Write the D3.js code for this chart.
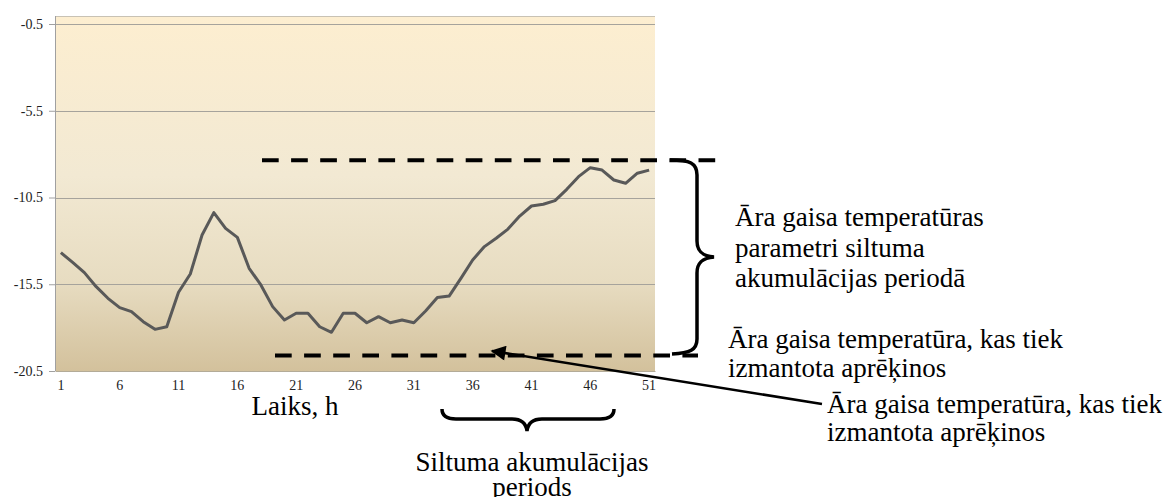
<!DOCTYPE html>
<html>
<head>
<meta charset="utf-8">
<script src="https://cdn.jsdelivr.net/npm/d3@7"></script>
<style>
	body { margin: 0; background: #fff; }
	svg { display: block; font-family: "Liberation Serif", "Times New Roman", serif; }
</style>
</head>
<body>
<div class="temp_chart"></div>
<script>
// D3 Script
let my_WIDTH = 1166
let my_HEIGHT = 497
const SVG_MARGIN = {top: 24, right: 511, bottom: 126, left: 55};
const FONT = '"Liberation Serif", "Times New Roman", serif';

// Laiks, h
const hours = d3.range(1, 52);
// Āra gaisa temperatūra, °C
const temps = [-13.68, -14.24, -14.83, -15.64, -16.31, -16.85, -17.08, -17.66, -18.10, -17.95,
	-15.96, -14.91, -12.66, -11.37, -12.28, -12.80, -14.58, -15.54, -16.79, -17.56,
	-17.17, -17.17, -17.95, -18.27, -17.17, -17.17, -17.72, -17.37, -17.72, -17.56,
	-17.72, -17.04, -16.27, -16.18, -15.16, -14.10, -13.33, -12.85, -12.32, -11.57,
	-10.99, -10.89, -10.68, -10.03, -9.30, -8.78, -8.92, -9.49, -9.68, -9.10, -8.92];
const yTicks = [-0.5, -5.5, -10.5, -15.5, -20.5];
const xTickLabels = [1, 6, 11, 16, 21, 26, 31, 36, 41, 46, 51];
// dashed reference levels (top / bottom of the accumulation range)
const refLevels = [-8.35, -19.6];

const bsvg = d3.select(".temp_chart")
			  .append("svg")
			  .attr("width", my_WIDTH)
			  .attr("height", my_HEIGHT);

const xScale = d3.scaleBand()
		       .domain(hours)
		       .range([SVG_MARGIN.left, my_WIDTH - SVG_MARGIN.right])
		       .paddingInner(0);

const yScale = d3.scaleLinear()
			   .domain([-20.5, -0.5])
			   .range([my_HEIGHT - SVG_MARGIN.bottom, SVG_MARGIN.top]);

const plotTop = yScale(-0.5) - 8;
const plotBottom = yScale(-20.5);
const plotLeft = SVG_MARGIN.left;
const plotRight = my_WIDTH - SVG_MARGIN.right;

// gradient background
const defs = bsvg.append("defs");
const grad = defs.append("linearGradient")
			 .attr("id", "bg")
			 .attr("x1", 0).attr("y1", 0)
			 .attr("x2", 0).attr("y2", 1);
[["0%", "#fdeed0"], ["45%", "#f2e9d3"], ["75%", "#e7dcc1"], ["100%", "#d3c19c"]].forEach(s => {
	grad.append("stop").attr("offset", s[0]).attr("stop-color", s[1]);
});

defs.append("marker")
	.attr("id", "arrowhead")
	.attr("viewBox", "0 0 10 10")
	.attr("refX", 9)
	.attr("refY", 5)
	.attr("markerWidth", 7)
	.attr("markerHeight", 6)
	.attr("markerUnits", "strokeWidth")
	.attr("orient", "auto")
	.append("path")
	.attr("d", "M0,0 L10,5 L0,10 z")
	.attr("fill", "#000");

bsvg.append("rect")
	.attr("x", plotLeft)
	.attr("y", plotTop)
	.attr("width", plotRight - plotLeft)
	.attr("height", plotBottom - plotTop)
	.attr("fill", "url(#bg)");

bsvg.append("line")
	.attr("x1", plotLeft).attr("x2", plotRight)
	.attr("y1", plotTop + 0.5).attr("y2", plotTop + 0.5)
	.attr("stroke", "#c8c2b4")
	.attr("stroke-width", 1);

// gridlines
bsvg.append("g")
	.selectAll("line")
	.data(yTicks.slice(0, -1)).enter()
	.append("line")
	.attr("x1", plotLeft)
	.attr("x2", plotRight)
	.attr("y1", d => Math.round(yScale(d)) + 0.5)
	.attr("y2", d => Math.round(yScale(d)) + 0.5)
	.attr("stroke", "#a6a39c")
	.attr("stroke-width", 1);

const yAxis = d3.axisLeft(yScale)
				.tickValues(yTicks)
				.tickFormat(d => d.toFixed(1))
				.tickSizeInner(6)
				.tickSizeOuter(0)
				.tickPadding(6);

const y_axis = bsvg.append("g")
			 .attr("class", "y axis")
			 .attr("transform", "translate(" + plotLeft + ", 0)")
			 .call(yAxis)
			 .attr("font-family", FONT)
			 .attr("font-size", 14);
y_axis.select(".domain").attr("stroke", "#a0a0a0").attr("d", "M0.5," + plotTop + "V" + plotBottom);
y_axis.selectAll("line").attr("stroke", "#a0a0a0");
y_axis.selectAll("text").attr("fill", "#222");

const xAxis = d3.axisBottom(xScale)
				.tickValues(xTickLabels)
				.tickSize(0)
				.tickPadding(9);

const x_axis = bsvg.append("g")
			 .attr("class", "x axis")
			 .attr("transform", "translate(0, " + plotBottom + ")")
			 .call(xAxis)
			 .attr("font-family", FONT)
			 .attr("font-size", 14);
x_axis.select(".domain").attr("stroke", "#b3ab98");
x_axis.selectAll("text").attr("fill", "#222");

// temperature line
const line = d3.line()
			 .x((d, i) => xScale(hours[i]) + xScale.bandwidth() / 2)
			 .y(d => yScale(d));

bsvg.append("path")
	.datum(temps)
	.attr("d", line)
	.attr("fill", "none")
	.attr("stroke", "#595959")
	.attr("stroke-width", 3)
	.attr("stroke-linejoin", "round");

// annotations
bsvg.append("line")
	.attr("x1", 262).attr("x2", 716)
	.attr("y1", yScale(refLevels[0])).attr("y2", yScale(refLevels[0]))
	.attr("stroke", "#000")
	.attr("stroke-width", 4)
	.attr("stroke-dasharray", "16.7 12.4");

bsvg.append("line")
	.attr("x1", 275).attr("x2", 698)
	.attr("y1", yScale(refLevels[1])).attr("y2", yScale(refLevels[1]))
	.attr("stroke", "#000")
	.attr("stroke-width", 4)
	.attr("stroke-dasharray", "16.7 12.4");

// right brace
bsvg.append("path")
	.attr("d", "M670,160 C690,160 697,163 697,175 L697,241 C697,252 703,256 714,257 C703,258 697,262 697,273 L697,339 C697,350 690,353 672,354")
	.attr("fill", "none")
	.attr("stroke", "#000")
	.attr("stroke-width", 3.5);

// bottom brace
bsvg.append("path")
	.attr("d", "M442,409 C442,416 447,419 456,419 L512,419 C521,419 526,423 527,431 C528,423 533,419 542,419 L600,419 C609,419 614,416 614,409")
	.attr("fill", "none")
	.attr("stroke", "#000")
	.attr("stroke-width", 3.5);

// arrow
bsvg.append("line")
	.attr("x1", 822).attr("y1", 404)
	.attr("x2", 492).attr("y2", 351)
	.attr("stroke", "#000")
	.attr("stroke-width", 2.5)
	.attr("marker-end", "url(#arrowhead)");

const labels = [
	{t: "Laiks, h", x: 295, y: 415, a: "middle"},
	{t: "Āra gaisa temperatūras", x: 735, y: 226, a: "start"},
	{t: "parametri siltuma", x: 735, y: 257, a: "start"},
	{t: "akumulācijas periodā", x: 735, y: 287, a: "start"},
	{t: "Āra gaisa temperatūra, kas tiek", x: 728, y: 348, a: "start"},
	{t: "izmantota aprēķinos", x: 728, y: 377, a: "start"},
	{t: "Āra gaisa temperatūra, kas tiek", x: 827, y: 413, a: "start"},
	{t: "izmantota aprēķinos", x: 827, y: 441, a: "start"},
	{t: "Siltuma akumulācijas", x: 532, y: 471, a: "middle"},
	{t: "periods", x: 532, y: 496, a: "middle"}
];

bsvg.selectAll(".note")
	.data(labels).enter()
	.append("text")
	.attr("class", "note")
	.attr("x", d => d.x)
	.attr("y", d => d.y)
	.style("text-anchor", d => d.a)
	.style("font-size", "27px")
	.attr("fill", "#000")
	.text(d => d.t);
</script>
</body>
</html>
